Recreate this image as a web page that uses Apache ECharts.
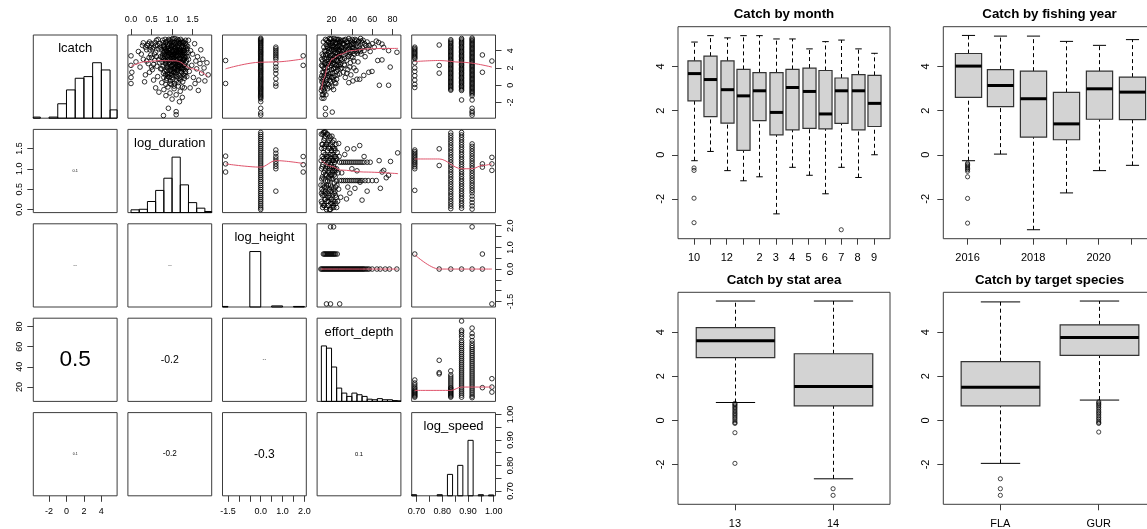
<!DOCTYPE html>
<html><head><meta charset="utf-8">
<script src="https://cdn.jsdelivr.net/npm/echarts/dist/echarts.min.js"></script>
<style>html,body{margin:0;padding:0;background:#fff}#c{width:1147px;height:529px}</style>
</head><body><div id="c"></div>
<script>
// ===================== DATA =====================
// ---- pairs plot variables ----
const pairVars = ['lcatch', 'log_duration', 'log_height', 'effort_depth', 'log_speed'];
const pairRanges = [[-3.806, 5.806], [-0.076, 1.966], [-1.751, 2.088], [5.8, 88.2], [0.681, 1.007]];
const lcatchTicks = [-2, 0, 2, 4];
const lcatchTickLabels = ['-2', '0', '2', '4'];
const durationTicks = [0, 0.5, 1, 1.5];
const durationTickLabels = ['0.0', '0.5', '1.0', '1.5'];
const heightTicks = [-1.5, -1, -0.5, 0, 0.5, 1, 1.5, 2];
const heightTickLabels = ['-1.5', '', '', '0.0', '', '1.0', '', '2.0'];
const depthTicks = [20, 40, 60, 80];
const depthTickLabels = ['20', '40', '60', '80'];
const speedTicks = [0.7, 0.75, 0.8, 0.85, 0.9, 0.95, 1.0];
const speedTickLabels = ['0.70', '', '0.80', '', '0.90', '', '1.00'];

// ---- diagonal histograms (bin breaks, bar heights relative to tallest bar) ----
const lcatchBreaks = [-4, -3, -2, -1, 0, 1, 2, 3, 4, 5, 6];
const lcatchHeights = [0.02, 0, 0.02, 0.26, 0.51, 0.72, 0.75, 1.0, 0.87, 0.15];
const durationBreaks = [0, 0.2, 0.4, 0.6, 0.8, 1.0, 1.2, 1.4, 1.6, 1.8, 2.0];
const durationHeights = [0.05, 0.06, 0.2, 0.4, 0.62, 1.0, 0.5, 0.18, 0.08, 0.02];
const heightBreaks = [-2, -1.5, -1, -0.5, 0, 0.5, 1, 1.5, 2];
const heightHeights = [0.01, 0, 0, 1.0, 0, 0.02, 0, 0.01];
const depthBreaks = [10, 15, 20, 25, 30, 35, 40, 45, 50, 55, 60, 65, 70, 75, 80, 85, 90];
const depthHeights = [1.0, 0.96, 0.62, 0.24, 0.15, 0.09, 0.15, 0.12, 0.09, 0.04, 0.03, 0.05, 0.03, 0.03, 0.015, 0.01];
const speedBreaks = [0.68, 0.70, 0.72, 0.74, 0.76, 0.78, 0.80, 0.82, 0.84, 0.86, 0.88, 0.90, 0.92, 0.94, 0.96, 0.98, 1.00];
const speedHeights = [0.02, 0, 0, 0, 0, 0.02, 0, 0.386, 0, 0.549, 0, 1.0, 0, 0.02, 0, 0.015];

// ---- lower panels: correlation text ----
const corrCells = [[1, 0], [2, 0], [2, 1], [3, 0], [3, 1], [3, 2], [4, 0], [4, 1], [4, 2], [4, 3]];
const corrLabels = ['0.1', '0.0', '0.0', '0.5', '-0.2', '0.0', '0.1', '-0.2', '-0.3', '0.1'];
const corrValues = [0.08, 0.05, 0.05, 0.47, 0.27, 0.05, 0.07, 0.21, 0.31, 0.12];

// ---- upper panels: scatter points [x, y] and smoother points ----
// lcatch (y) vs log_duration (x)
const lcatchVsDuration = [
 [0.78,4.9],[0.82,4.2],[0.85,3.6],[0.88,5.1],[0.9,2.9],[0.92,4.5],[0.95,3.8],[0.97,2.2],[1.0,5.3],[1.02,4.0],[1.04,3.1],[1.06,1.8],
 [1.08,4.7],[1.1,3.4],[1.12,2.6],[1.15,5.0],[1.18,4.3],[1.2,3.0],[1.22,1.5],[1.25,4.6],[1.28,3.7],[1.3,2.4],[1.33,5.2],[0.8,3.1],
 [0.84,2.5],[0.87,1.7],[0.91,1.2],[0.94,4.8],[0.98,4.4],[1.01,3.5],[1.03,2.8],[1.05,1.1],[1.07,5.4],[1.09,4.1],[1.11,3.9],[1.13,1.9],
 [1.16,2.1],[1.19,3.6],[1.21,4.9],[1.24,2.7],[1.27,1.3],[1.29,4.0],[1.32,3.2],[1.34,2.0],[0.76,2.7],[0.79,1.4],[0.83,5.3],[0.86,4.0],
 [0.89,3.3],[0.93,0.9],[0.96,3.0],[0.99,1.6],[1.0,2.3],[1.02,0.7],[1.04,4.5],[1.06,3.7],[1.08,2.9],[1.1,0.5],[1.12,4.9],[1.14,3.0],
 [1.17,0.8],[1.2,4.1],[1.23,3.4],[1.26,0.4],[1.28,2.9],[1.31,1.1],[0.81,3.9],[0.88,2.3],[0.95,5.2],[1.03,4.7],[1.09,1.4],[1.16,4.6],
 [1.24,5.1],[1.33,4.4],[0.92,3.7],[1.0,3.9],[1.07,2.1],[1.14,3.8],[1.19,2.6],[1.26,3.5],
 [0.77,3.5],[0.8,4.6],[0.83,2.9],[0.86,5.0],[0.89,4.4],[0.92,2.4],[0.94,1.7],[0.97,4.2],[0.99,3.3],[1.01,5.0],[1.03,1.5],[1.05,2.6],
 [1.07,3.3],[1.09,4.4],[1.11,2.3],[1.13,5.3],[1.15,1.7],[1.17,3.9],[1.19,4.8],[1.21,2.0],[1.23,4.4],[1.25,3.1],[1.27,2.3],[1.29,5.0],
 [1.31,3.8],[0.96,0.5],[1.06,0.2],[1.18,1.1],[0.87,0.8],[1.22,0.9],
 [0.74,4.1],[0.75,1.9],[0.77,5.2],[0.78,2.2],[0.79,3.8],[0.8,0.9],[0.81,4.4],[0.82,1.6],[0.83,3.3],[0.84,4.9],[0.85,2.7],[0.86,0.6],
 [0.87,3.9],[0.88,1.4],[0.89,4.7],[0.9,2.0],[0.91,3.5],[0.92,5.3],[0.93,2.6],[0.94,4.1],[0.95,1.3],[0.96,3.6],[0.97,5.0],[0.98,2.8],
 [0.99,4.6],[1.0,1.9],[1.01,3.1],[1.02,5.4],[1.03,2.4],[1.04,3.6],[1.05,4.9],[1.06,1.5],[1.07,4.0],[1.08,2.5],[1.09,3.5],[1.1,5.1],
 [1.11,1.7],[1.12,3.5],[1.13,4.4],[1.14,2.2],[1.15,3.4],[1.16,5.2],[1.17,1.9],[1.18,3.2],[1.19,4.0],[1.2,2.3],[1.21,5.3],[1.22,3.8],
 [1.23,1.6],[1.24,4.0],[1.25,2.0],[1.26,4.9],[1.27,3.0],[1.28,1.8],[1.29,4.4],[1.3,3.3],[1.31,2.1],[1.32,4.8],[1.33,1.6],[1.34,3.6],
 [1.35,2.8],[1.36,4.2],[1.37,3.3],[1.38,2.1],[1.39,3.8],[0.76,3.2],[0.79,4.5],[0.82,2.9],[0.85,4.3],[0.88,3.0],[0.91,4.2],[0.94,3.1],
 [0.97,1.8],[1.0,4.6],[1.03,3.4],[1.06,4.3],[1.09,2.0],[1.12,4.1],[1.15,2.6],[1.18,4.9],[1.21,3.1],[1.24,1.9],[1.27,5.0],[1.3,4.0],
 [1.33,2.6],[0.9,1.0],[1.0,0.9],[1.1,1.2],[1.2,0.6],[1.3,0.8],[0.95,0.2],[1.15,0.3],[1.25,-0.2],[0.85,0.1],[1.05,-0.1],
 [0.82,3.6],[0.87,2.1],[0.93,4.0],[0.98,3.5],[1.04,2.0],[1.08,3.8],[1.13,2.8],[1.18,2.4],[1.23,2.6],[1.28,4.2],[1.32,1.4],[0.9,3.8],
 [1.0,2.7],[1.1,2.8],[1.2,3.6],[1.3,3.0],[0.95,2.6],[1.05,3.5],[1.15,4.1],[1.25,3.8],[0.84,1.2],[1.35,4.6],[1.12,1.0],[0.99,1.2],
 [0.0,3.4],[0.0,2.3],[0.0,0.9],[0.0,0.2],[0.02,1.5],[0.12,2.7],[0.18,3.9],[0.22,2.1],[0.28,4.6],[0.3,3.0],[0.35,1.2],[0.38,4.1],
 [0.42,2.5],[0.45,5.0],[0.48,3.5],[0.5,4.8],[0.52,1.8],[0.55,4.4],[0.58,2.9],[0.6,3.8],[0.62,5.2],[0.65,1.0],[0.68,4.2],[0.7,2.6],
 [0.72,3.3],[0.55,0.6],[0.45,1.5],[0.33,0.4],[0.6,-0.3],[0.68,-0.8],[0.25,3.6],[0.4,4.6],[0.48,4.4],[0.52,4.2],
 [0.3,4.9],[0.35,4.4],[0.42,4.8],[0.46,4.1],[0.5,3.2],[0.55,2.4],[0.58,4.9],[0.62,3.3],[0.65,4.6],[0.68,3.0],[0.7,4.8],[0.72,1.9],
 [0.63,2.2],[0.57,3.6],[0.5,2.1],[0.44,3.2],[0.38,2.8],[0.66,5.3],[0.71,4.4],[0.6,4.6],
 [1.38,4.5],[1.4,3.0],[1.42,1.6],[1.45,4.0],[1.48,2.3],[1.5,3.6],[1.52,0.9],[1.55,4.8],[1.58,2.8],[1.6,1.9],[1.62,3.3],[1.65,0.6],
 [1.68,2.5],[1.7,4.1],[1.72,1.4],[1.75,3.0],[1.78,2.0],[1.8,0.5],[1.85,2.6],[1.88,1.2],[1.36,1.0],[1.44,-0.3],[1.56,0.2],[1.64,-0.6],[1.4,5.2],
 [0.75,0.3],[0.8,-0.5],[0.85,-1.2],[0.9,-0.2],[0.95,-0.9],[1.0,-1.6],[1.05,-0.4],[1.1,-1.1],[1.15,-0.1],[1.2,-0.7],[1.25,-1.4],[1.3,-0.3],
 [0.91,-2.66],[0.79,-3.5],[1.1,-3.05],[1.1,-3.4],[0.98,0.1],[1.18,-1.9]
];
const lcatchVsDurationSmooth = [[0,2.17],[0.37,2.74],[0.7,2.85],[1.1,2.82],[1.5,1.9],[1.87,1.03]];

// lcatch (y) by log_height level (x)
const lcatchByHeight = [
 {level: -1.609, values: [2.86, 0.2]},
 {level: 0, values: [5.42,5.3,5.18,5.05,4.93,4.8,4.66,4.55,4.41,4.3,4.17,4.04,3.9,3.79,3.65,3.52,3.4,3.27,3.13,3.01,2.88,2.75,2.61,2.5,2.36,2.22,2.1,1.97,1.84,1.7,1.58,1.45,1.31,1.19,1.05,0.93,0.8,0.66,0.53,0.41,0.28,0.15,0.02,-0.12,-0.25,-0.38,-0.5,-0.64,-0.77,-0.9,-1.03,-1.17,-1.3,-1.44,-1.58,-1.9,-2.66,-3.2,-3.45]},
 {level: 0.693, values: [4.4,4.2,4.0,3.8,3.6,3.4,3.2,3.0,2.5,2.1,1.75,1.35,0.75,0.2,-0.1]},
 {level: 1.946, values: [3.4, 2.3]}
];
const lcatchVsHeightSmooth = [[-1.609,1.9],[0,2.66],[0.693,2.7],[1.946,3.05]];

// lcatch (y) vs effort_depth (x)
const lcatchVsDepth = [
 [10,-0.6],[10.5,0.4],[11,1.5],[10.2,2.3],[11.5,-0.2],[12,0.9],[12.5,2.0],[13,3.1],[10.8,3.6],[11.8,-1.1],[12.2,-0.5],[13.5,1.2],
 [14,2.6],[13.2,4.0],[10.4,1.1],[11.2,2.8],[12.8,-0.8],[13.8,0.3],[14.2,3.5],[12.4,4.4],[11.6,0.2],[10.6,-1.5],[9.8,0.8],[13.6,1.9],
 [15,3.2],[15.5,4.5],[16,2.1],[16.5,5.0],[17,3.8],[17.5,1.3],[18,4.2],[18.5,2.7],[19,5.3],[19.5,3.5],[20,1.8],[20.5,4.8],[21,3.0],
 [21.5,0.9],[22,4.1],[22.5,5.4],[23,2.4],[23.5,3.7],[24,4.9],[24.5,1.6],[25,3.3],[25.5,4.4],[26,2.8],[26.5,5.1],[27,3.9],[27.5,2.2],
 [28,4.6],[28.5,3.1],[29,5.2],[29.5,3.6],[15.2,0.6],[16.2,-0.4],[17.2,0.1],[18.2,1.0],[19.2,0.4],[20.2,-0.2],[21.2,1.4],[22.2,0.6],
 [23.2,1.1],[24.2,0.2],[15.8,1.6],[16.8,3.0],[17.8,5.4],[18.8,3.9],[19.8,2.3],[20.8,5.0],[21.8,2.6],[22.8,3.3],[23.8,5.0],[24.8,2.9],
 [25.8,1.2],[26.8,4.1],[27.8,4.9],[28.8,1.9],[29.8,4.3],[15.6,4.0],[17.6,4.6],[19.6,4.5],[21.6,4.4],[23.6,4.2],[25.6,5.3],[27.6,3.4],
 [16.4,2.5],[18.4,3.4],[20.4,2.9],[22.4,1.9],[24.4,3.8],[26.4,2.4],[14.5,-1.1],[14,-2.66],[14,-3.4],[20.7,-3.1],[12.5,-1.5],[10.9,-1.1],
 [10.3,3.0],[10.7,-0.3],[11.1,2.2],[11.4,0.6],[11.9,3.4],[12.3,1.5],[12.7,0.1],[13.1,2.5],[13.4,-0.3],[13.9,3.9],[14.3,1.6],[14.7,4.7],
 [15.1,2.4],[15.4,5.2],[15.7,0.2],[16.1,3.5],[16.3,4.3],[16.7,1.1],[17.1,2.5],[17.3,5.0],[17.7,3.2],[18.1,0.6],[18.3,2.1],[18.7,4.8],
 [19.1,1.4],[19.3,3.0],[19.7,5.4],[20.1,4.1],[20.3,0.9],[20.7,2.5],[21.1,4.6],[21.3,3.5],[21.7,1.9],[22.1,5.1],[22.3,3.9],[22.7,2.9],
 [23.1,4.5],[23.3,0.3],[23.7,2.0],[24.1,3.3],[24.3,5.3],[24.7,4.3],[25.1,2.3],[25.3,4.8],[25.7,3.7],[26.1,1.8],[26.3,4.5],[26.7,3.3],
 [27.1,5.3],[27.3,2.6],[27.7,4.2],[28.1,3.7],[28.3,5.0],[28.7,2.4],[29.1,4.0],[29.3,2.9],[29.7,5.0],[30.2,4.4],[30.8,3.9],[31.3,5.2],
 [31.8,4.1],[32.3,4.7],[32.8,3.1],[33.3,4.4],[33.8,5.3],[34.3,3.7],[34.8,4.5],[35.3,5.0],[35.8,3.9],[36.3,4.9],[36.8,4.2],[37.3,3.5],
 [37.8,4.6],[38.3,5.2],[38.8,4.0],[39.3,3.3],[39.8,4.7],[40.3,5.3],[40.8,3.9],[41.3,4.9],[41.8,4.3],[42.3,5.1],[43.3,4.1],[44.3,4.8],
 [45.3,3.7],[46.3,5.0],[47.3,4.4],[48.3,3.9],[49.3,5.1],[50.3,4.3],[12,5.0],[14,5.3],[16,0.9],[18,-0.2],[22,-0.5],[25,0.7],[28,1.3],
 [30,2.0],[33,2.3],[35,1.4],[38,2.1],[42,2.8],[44,1.7],
 [31,4.8],[32,3.5],[33,5.2],[34,4.1],[35,2.9],[36,4.6],[37,5.4],[38,3.8],[39,4.4],[40,5.0],[41,3.2],[42,4.7],[43,5.3],[44,3.9],
 [45,4.5],[46,2.7],[47,5.1],[48,4.2],[49,3.6],[50,4.9],[51,5.2],[52,4.0],[53,3.3],[54,4.6],[55,5.0],[56,4.3],[58,3.9],[60,4.8],
 [62,4.4],[64,5.1],[30.5,3.0],[32.5,2.4],[34.5,5.0],[36.5,3.3],[38.5,2.6],[40.5,4.3],[42.5,3.6],[44.5,5.2],[46.5,4.0],[48.5,5.4],
 [52.5,4.8],[57,4.6],[31.5,1.5],[33.5,0.9],[36,1.8],[39,1.2],[42,2.0],[45,0.7],[37,0.3],[41,0.5],
 [66.3,4.95],[69.6,4.76],[71.2,4.38],[76.1,4.0],[84.3,3.81],[77.7,2.1],[67,0],[76.1,0],[59.8,1.6],[56.6,1.5],[51.7,1.14],[47.7,0.69],
 [65.4,2.86],[69.6,2.93]
];
const lcatchVsDepthSmooth = [[10,-0.57],[13,0.9],[16,2.2],[20.7,3.05],[28,3.55],[38.6,4.0],[55,4.2],[70,4.25],[85.4,4.26]];

// lcatch (y) by log_speed level (x)
const lcatchBySpeed = [
 {level: 0.693, values: [4.4,4.25,4.1,3.95,3.8,3.65,3.5,3.35,3.2,3.05,2.6,2.0,1.6,1.1,0.6,0.1,-0.26]},
 {level: 0.788, values: [4.65, 2.29, 1.4]},
 {level: 0.833, values: [5.26,5.1,4.95,4.8,4.63,4.5,4.34,4.2,4.05,3.9,3.74,3.6,3.45,3.3,3.14,3.0,2.85,2.7,2.55,2.4,2.24,2.1,1.95,1.8,1.64,1.5,1.35,1.2,1.05,0.9,0.74,0.6,0.45,0.3,0.15,0.0,-0.15,-0.3,-0.45,-0.57]},
 {level: 0.875, values: [5.4,5.25,5.1,4.96,4.8,4.66,4.5,4.36,4.2,4.06,3.9,3.76,3.6,3.46,3.3,3.16,3.0,2.86,2.7,2.56,2.4,2.26,2.1,1.96,1.8,1.66,1.5,1.36,1.2,1.06,0.9,0.76,0.6,0.46,0.3,0.16,0.0,-0.14,-0.3,-0.45,-0.6,-1.7]},
 {level: 0.916, values: [5.45,5.3,5.15,5.0,4.85,4.7,4.55,4.4,4.25,4.1,3.95,3.8,3.65,3.5,3.35,3.2,3.05,2.9,2.75,2.6,2.45,2.3,2.15,2.0,1.85,1.7,1.55,1.4,1.25,1.1,0.95,0.8,0.65,0.5,0.35,0.2,0.05,-0.1,-0.25,-0.4,-0.55,-0.7,-0.85,-1.0,-1.2,-1.7,-2.66,-3.0,-3.2,-3.45]},
 {level: 0.956, values: [3.5, 1.5]},
 {level: 0.993, values: [2.8]}
];
const lcatchVsSpeedSmooth = [[0.693,2.74],[0.788,2.86],[0.875,2.66],[0.993,2.1]];

// log_duration (y) by log_height level (x)
const durationByHeight = [
 {level: -1.609, values: [1.31, 1.12, 0.92]},
 {level: 0, values: [1.89,1.84,1.79,1.74,1.69,1.64,1.59,1.54,1.49,1.44,1.39,1.34,1.29,1.24,1.19,1.14,1.09,1.04,0.99,0.94,0.89,0.84,0.79,0.74,0.69,0.64,0.59,0.54,0.49,0.44,0.39,0.34,0.29,0.24,0.19,0.14,0.09,0.04,0.0]},
 {level: 0.693, values: [1.46,1.38,1.3,1.24,1.18,1.12,1.06,1.0,0.45]},
 {level: 1.946, values: [1.3, 1.1, 0.92]}
];
const durationVsHeightSmooth = [[-1.609,1.12],[0,1.04],[0.693,1.2],[1.946,1.13]];

// log_duration (y) vs effort_depth (x)
const durationVsDepth = [
 [10,0.2],[10.5,0.5],[11,0.8],[11.5,1.1],[12,1.4],[12.5,1.7],[13,0.1],[13.5,0.4],[14,0.7],[14.5,1.0],[15,1.3],[15.5,1.6],[16,1.85],
 [16.5,0.3],[17,0.6],[17.5,0.9],[18,1.2],[18.5,1.5],[19,0.0],[19.5,0.75],[20,1.05],[20.5,1.35],[21,1.65],[21.5,0.2],[22,0.5],
 [22.5,0.85],[23,1.15],[23.5,1.45],[24,0.35],[24.5,0.95],[25,1.25],[10.2,1.0],[10.8,1.3],[11.2,0.05],[11.8,0.6],[12.2,0.9],[12.8,1.2],
 [13.2,1.55],[13.8,1.8],[14.2,0.25],[14.8,0.55],[15.2,0.85],[15.8,1.15],[16.2,1.45],[16.8,0.1],[17.2,0.45],[17.8,0.75],[18.2,1.05],
 [18.8,1.35],[19.2,1.75],[19.8,0.25],[20.2,0.55],[20.8,0.9],[21.2,1.2],[21.8,1.5],[22.2,0.05],[22.8,0.65],[23.2,1.0],[23.8,1.3],
 [24.2,0.15],[24.8,0.7],[10.6,1.6],[11.4,1.85],[12.6,0.35],[13.4,0.95],[14.6,1.25],[15.4,0.2],[16.6,0.95],[17.4,1.3],[18.6,0.3],
 [19.4,1.1],[20.6,0.15],[21.4,0.95],[22.6,1.3],[23.4,0.45],[12,1.89],[14,1.9],[15,0.0],[18,0.0],[11,0.35],[10.4,0.75],[17.6,1.7],[20.4,1.8],
 [9.6,0.6],[9.8,1.2],[10.1,0.4],[10.3,1.5],[10.7,0.15],[10.9,1.05],[11.3,1.6],[11.6,0.45],[11.9,1.25],[12.1,0.1],[12.4,0.75],[12.7,1.5],
 [12.9,0.55],[13.1,1.75],[13.3,0.25],[13.6,1.35],[13.9,0.85],[14.1,0.45],[14.4,1.6],[14.7,0.05],[14.9,1.1],[15.1,0.6],[15.3,1.85],
 [15.6,0.4],[15.9,1.3],[16.1,0.7],[16.4,1.65],[16.7,0.2],[16.9,1.15],[17.1,0.8],[17.3,1.5],[17.7,0.35],[17.9,1.0],[18.1,1.8],[18.3,0.5],
 [18.7,0.85],[18.9,1.6],[19.1,0.15],[19.3,1.25],[19.6,0.45],[19.9,1.45],[20.1,0.85],[20.3,0.05],[20.7,1.2],[20.9,1.55],[21.1,0.35],
 [21.3,0.75],[21.6,1.35],[21.9,0.1],[22.1,1.05],[22.3,1.7],[22.7,0.4],[22.9,0.95],[23.1,1.5],[23.3,0.2],[23.6,0.8],[23.9,1.2],[24.1,0.55],
 [24.3,1.6],[24.6,0.3],[24.9,1.0],[25.3,0.6],[25.6,1.4],[26,0.2],[26.5,0.9],[27,0.5],[27.5,1.3],[10,1.85],[13,1.9],[16,1.05],[19,0.6],
 [22,1.2],[25,0.05],
 [28,1.16],[30,1.16],[32,1.16],[34,1.16],[36,1.16],[38,1.16],[40,1.16],[42,1.16],[44,1.16],[46,1.16],[48,1.16],[50,1.16],[52,1.16],[55,1.16],[58,1.16],
 [28,0.71],[30,0.71],[32,0.71],[34,0.71],[36,0.71],[38,0.71],[40,0.71],[42,0.71],[44,0.71],[46,0.71],[48,0.71],[50,0.71],[53,0.71],[56,0.71],[60,0.71],[64,0.71],
 [27,1.62],[35.5,1.49],[42,1.49],[47.7,1.57],[66.8,1.2],[78,1.18],[85,1.39],[71.3,0.96],[76,0.84],[68,0.52],[48,0.67],[50,0.23],
 [43,0.52],[34.7,0.26],[69.7,0.92],[73.8,0.78],[30,0.9],[33,1.35],[38,0.4],[45,0.95],[52,1.3],[40,1.0],[29,0.3],[36,0.55],[55,0.45]
];
const durationVsDepthSmooth = [[10,1.2],[20,1.06],[28.8,0.97],[51.7,0.92],[85.4,0.88]];

// log_duration (y) by log_speed level (x)
const durationBySpeed = [
 {level: 0.693, values: [1.46,1.42,1.38,1.34,1.3,1.26,1.22,1.18,1.14,1.1,1.05,1.0,0.47]},
 {level: 0.788, values: [1.49, 1.08]},
 {level: 0.833, values: [1.88,1.82,1.76,1.7,1.64,1.58,1.52,1.46,1.4,1.34,1.28,1.22,1.16,1.1,1.04,0.98,0.92,0.86,0.8,0.74,0.68,0.62,0.56,0.5,0.44,0.38,0.32,0.26,0.2,0.14,0.08,0.02]},
 {level: 0.875, values: [1.89,1.83,1.77,1.71,1.65,1.59,1.53,1.47,1.41,1.35,1.29,1.23,1.17,1.11,1.05,0.99,0.93,0.87,0.81,0.75,0.69,0.63,0.57,0.51,0.45,0.39,0.33,0.27,0.21,0.15,0.09,0.03]},
 {level: 0.916, values: [1.61,1.55,1.49,1.43,1.37,1.31,1.25,1.19,1.13,1.07,1.01,0.95,0.89,0.83,0.77,0.71,0.65,0.59,0.53,0.47,0.41,0.33,0.25,0.17,0.09,0.01]},
 {level: 0.956, values: [1.12, 1.04]},
 {level: 0.993, values: [1.28, 1.12, 0.96]}
];
const durationVsSpeedSmooth = [[0.693,1.24],[0.788,1.24],[0.875,1.0],[0.916,1.0],[0.956,1.08],[0.993,1.12]];

// log_height level (y) with effort_depth values (x)
const heightRowsDepth = [
 {level: 0, values: [9.5,10.5,11.5,12.5,13.5,14.5,15.5,16.5,17.5,18.5,19.5,20.5,21.5,22.5,23.5,24.5,25.5,26.5,27.5,28.5,29.5,30.5,31.5,32.5,33.5,34.5,35.5,36.5,37.5,38.5,39.5,40.5,41.5,42.5,43.5,44.5,45.5,46.5,47.5,48.5,49.5,50.5,51.5,52.5,54,55.5,57,60,64.6,67.9,72.8,77,84.2]},
 {level: 0.693, values: [12,13,14,15,16,17,18,19,20,21,22,23,24,25.6]},
 {level: 1.946, values: [19, 22]},
 {level: -1.609, values: [15, 19, 28]}
];
const heightVsDepthSmooth = [[9.5,0],[85,0]];

// log_height (y) vs log_speed (x)
const heightVsSpeed = [[0.693,0.693],[0.788,0],[0.833,0],[0.875,0],[0.916,0],[0.916,1.946],[0.956,0],[0.956,0.693],[0.993,-1.609]];
const heightVsSpeedSmooth = [[0.693,0.66],[0.788,0],[0.993,0]];

// effort_depth (y) by log_speed level (x)
const depthBySpeed = [
 {level: 0.693, values: [27,24,22,20,18.5,17,16,15,14,13,12,11,10]},
 {level: 0.788, values: [46.5, 34.3, 33]},
 {level: 0.833, values: [36,32,30,28,26,24,22,20,19,18,17,16,15,14,13,12,11,10]},
 {level: 0.875, values: [85.4,76.2,74.5,72,69.6,66,64,62,60,58,56,54,52,50,48,46,44,42,40,38,36,34,32,30,28,26,24,22,20,18,16,14,12,10]},
 {level: 0.916, values: [78.4,73,70,66,63.4,61,59,57,55,53,51,49,47,45,43,41,39,37,35,33,31,29,27,25,23,21,19,17,15,13,11,9.5]},
 {level: 0.956, values: [19.4]},
 {level: 0.993, values: [28.3, 20, 15]}
];
const depthVsSpeedSmooth = [[0.693,16.7],[0.833,16.7],[0.875,20],[0.993,20]];

// ---- boxplots of lcatch ----
const catchRange = [-3.806, 5.806];
const catchTicks = [-2, 0, 2, 4];
const catchTickLabels = ['-2', '0', '2', '4'];

const monthCats = ['10', '11', '12', '1', '2', '3', '4', '5', '6', '7', '8', '9'];
const monthTickLabels = ['10', '', '12', '', '2', '3', '4', '5', '6', '7', '8', '9'];
// [min, Q1, median, Q3, max]
const monthStats = [
 [-0.27, 2.44, 3.68, 4.26, 5.11], [0.15, 1.73, 3.41, 4.47, 5.4], [-0.72, 1.43, 2.95, 4.26, 5.3],
 [-1.18, 0.2, 2.67, 3.87, 5.4], [-1.0, 1.55, 2.9, 3.72, 5.4], [-2.68, 0.9, 1.92, 3.72, 5.25],
 [-0.57, 1.13, 3.05, 3.87, 5.25], [-0.93, 1.2, 2.87, 3.93, 4.8], [-1.77, 1.17, 1.85, 3.82, 5.13],
 [-0.57, 1.42, 2.9, 3.48, 5.2], [-1.03, 1.13, 2.9, 3.63, 4.8], [0.0, 1.28, 2.33, 3.6, 4.6]
];
const monthOutliers = [[1, -0.6], [1, -0.71], [1, -1.97], [1, -3.08], [10, -3.4]];

const yearCats = ['2016', '2017', '2018', '2019', '2020', '2021'];
const yearTickLabels = ['2016', '', '2018', '', '2020', ''];
const yearStats = [
 [-0.27, 2.6, 4.02, 4.59, 5.41], [0.03, 2.18, 3.14, 3.86, 5.38], [-3.4, 0.8, 2.54, 3.79, 5.38],
 [-1.73, 0.68, 1.4, 2.83, 5.14], [-0.72, 1.61, 2.99, 3.79, 4.96], [-0.48, 1.59, 2.84, 3.52, 5.22]
];
const yearOutliers = [[1, -0.38], [1, -0.44], [1, -0.5], [1, -0.56], [1, -0.62], [1, -0.68], [1, -0.75], [1, -1.0], [1, -1.98], [1, -3.1]];

const areaCats = ['13', '14'];
const areaTickLabels = ['13', '14'];
const areaStats = [[0.81, 2.84, 3.61, 4.2, 5.41], [-2.65, 0.66, 1.53, 3.02, 5.41]];
const areaOutliers = [[1, 0.77], [1, 0.72], [1, 0.66], [1, 0.6], [1, 0.54], [1, 0.47], [1, 0.4], [1, 0.33], [1, 0.27], [1, 0.2],
 [1, 0.13], [1, 0.06], [1, -0.02], [1, -0.1], [1, -0.14], [1, -0.56], [1, -1.95], [2, -3.1], [2, -3.4]];

const speciesCats = ['FLA', 'GUR'];
const speciesTickLabels = ['FLA', 'GUR'];
const speciesStats = [[-1.95, 0.66, 1.5, 2.66, 5.37], [0.92, 2.95, 3.76, 4.33, 5.41]];
const speciesOutliers = [[1, -2.65], [1, -3.1], [1, -3.4], [2, 0.84], [2, 0.78], [2, 0.72], [2, 0.65], [2, 0.58], [2, 0.5], [2, 0.42],
 [2, 0.35], [2, 0.28], [2, 0.2], [2, 0.12], [2, 0.05], [2, -0.03], [2, -0.1], [2, -0.14], [2, -0.53]];

// ===================== CHART =====================
const FONT = '"Liberation Sans", Arial, Helvetica, sans-serif';
const FRAME = '#3c3c3c';
const option = {animation: false, backgroundColor: '#fff', grid: [], xAxis: [], yAxis: [], series: [], graphic: []};

const pairTicks = [lcatchTicks, durationTicks, heightTicks, depthTicks, speedTicks];
const pairTickLabels = [lcatchTickLabels, durationTickLabels, heightTickLabels, depthTickLabels, speedTickLabels];
const pairHist = [[lcatchBreaks, lcatchHeights], [durationBreaks, durationHeights], [heightBreaks, heightHeights], [depthBreaks, depthHeights], [speedBreaks, speedHeights]];

const fromColumns = cols => cols.flatMap(c => c.values.map(v => [c.level, v]));
const fromRows = rows => rows.flatMap(r => r.values.map(v => [v, r.level]));
const upper = {
 '0,1': [lcatchVsDuration, lcatchVsDurationSmooth],
 '0,2': [fromColumns(lcatchByHeight), lcatchVsHeightSmooth],
 '0,3': [lcatchVsDepth, lcatchVsDepthSmooth],
 '0,4': [fromColumns(lcatchBySpeed), lcatchVsSpeedSmooth],
 '1,2': [fromColumns(durationByHeight), durationVsHeightSmooth],
 '1,3': [durationVsDepth, durationVsDepthSmooth],
 '1,4': [fromColumns(durationBySpeed), durationVsSpeedSmooth],
 '2,3': [fromRows(heightRowsDepth), heightVsDepthSmooth],
 '2,4': [heightVsSpeed, heightVsSpeedSmooth],
 '3,4': [fromColumns(depthBySpeed), depthVsSpeedSmooth]
};

function labelFmt(ticks, labels) {
  return v => { const n = ticks.findIndex(t => Math.abs(t - v) < 1e-9); return n >= 0 ? labels[n] : ''; };
}
function labelVals(ticks, labels) { return ticks.filter((t, n) => labels[n] !== ''); }

function addGrid(left, top, width, height) {
  option.grid.push({left, top, width, height, show: true, borderColor: FRAME, borderWidth: 1,
    backgroundColor: 'transparent', containLabel: false, outerBoundsMode: 'none'});
  return option.grid.length - 1;
}
function axisCfg(gridIndex, range, ticks, labels, position, show, fontSize, margin, rotate) {
  return {
    type: 'value', gridIndex, min: range[0], max: range[1], position, scale: true,
    axisLine: {show: false, onZero: false}, splitLine: {show: false},
    axisTick: {show: show, inside: false, length: 6, customValues: ticks, lineStyle: {color: FRAME, width: 1}},
    axisLabel: {show: show, customValues: labelVals(ticks, labels), formatter: labelFmt(ticks, labels),
      fontSize, fontFamily: FONT, color: '#000', margin, rotate: rotate || 0, hideOverlap: false}
  };
}

const mctx = document.createElement('canvas').getContext('2d');
function emWidth(txt) { mctx.font = '100px ' + FONT; return mctx.measureText(txt).width / 100; }

const PW = 83.8, PH = 83.2;
for (let i = 0; i < 5; i++) {
  for (let j = 0; j < 5; j++) {
    const gi = addGrid(33.3 + j * 94.6, 35 + i * 94.4, PW, PH);
    const showTop = i === 0 && j % 2 === 1, showBottom = i === 4 && j % 2 === 0;
    const showLeft = j === 0 && i % 2 === 1, showRight = j === 4 && i % 2 === 0;
    const xi = option.xAxis.length;
    option.xAxis.push(axisCfg(gi, pairRanges[j], pairTicks[j], pairTickLabels[j], showTop ? 'top' : 'bottom', showTop || showBottom, 9, 11));
    const yi = option.yAxis.length;
    option.yAxis.push(axisCfg(gi, pairRanges[i], pairTicks[i], pairTickLabels[i], showRight ? 'right' : 'left', showLeft || showRight, 9, showLeft ? 9 : 11, 90));
    if (i === j) {
      const yh = option.yAxis.length;
      option.yAxis.push({type: 'value', gridIndex: gi, min: 0, max: 1.5, show: false, position: 'left', axisLine: {onZero: false}});
      const [br, hs] = pairHist[i];
      option.series.push({
        type: 'custom', xAxisIndex: xi, yAxisIndex: yh, silent: true,
        data: hs.map((h, n) => [br[n], br[n + 1], h]), encode: {x: [0, 1], y: 2},
        renderItem: (params, api) => {
          const p0 = api.coord([api.value(0), api.value(2)]);
          const p1 = api.coord([api.value(1), 0]);
          const cs = params.coordSys;
          const r = echarts.graphic.clipRectByRect(
            {x: p0[0], y: p0[1], width: p1[0] - p0[0], height: p1[1] - p0[1]},
            {x: cs.x, y: cs.y, width: cs.width, height: cs.height});
          if (!r || r.height <= 0.05) return null;
          return {type: 'rect', shape: r, style: {fill: 'none', stroke: '#000', lineWidth: 1}};
        }
      });
      const name = pairVars[i];
      option.series.push({
        type: 'custom', xAxisIndex: xi, yAxisIndex: yh, silent: true, data: [[0, 0]], z: 5,
        renderItem: (params) => {
          const cs = params.coordSys;
          return {type: 'text', x: cs.x + cs.width / 2, y: cs.y + cs.height * (1 - 0.8333),
            style: {text: name, fill: '#000', font: '13px ' + FONT, align: 'center', verticalAlign: 'middle'}};
        }
      });
    } else if (i > j) {
      const k = corrCells.findIndex(c => c[0] === i && c[1] === j);
      const txt = corrLabels[k], r = Math.abs(corrValues[k]);
      option.series.push({
        type: 'custom', xAxisIndex: xi, yAxisIndex: yi, silent: true, data: [[0, 0]],
        renderItem: (params) => {
          const cs = params.coordSys;
          const fs = 0.8 * r * cs.width / emWidth(txt);
          return {type: 'text', x: cs.x + cs.width / 2, y: cs.y + cs.height / 2,
            style: {text: txt, fill: '#000', font: fs.toFixed(2) + 'px ' + FONT, align: 'center', verticalAlign: 'middle'}};
        }
      });
    } else {
      const [pts, sm] = upper[i + ',' + j];
      option.series.push({
        type: 'scatter', xAxisIndex: xi, yAxisIndex: yi, data: pts, symbol: 'circle', symbolSize: 4.6, silent: true,
        itemStyle: {color: 'rgba(0,0,0,0)', borderColor: '#000', borderWidth: 1}, z: 2
      });
      option.series.push({
        type: 'line', xAxisIndex: xi, yAxisIndex: yi, data: sm, smooth: 0.35, smoothMonotone: 'x', showSymbol: false, symbol: 'none',
        silent: true, lineStyle: {color: '#DF536B', width: 1}, z: 3
      });
    }
  }
}

// ---------- boxplot panels ----------
function boxRender(params, api) {
  const x = api.value(0);
  const lo = api.coord([x, api.value(1)]), q1 = api.coord([x, api.value(2)]), med = api.coord([x, api.value(3)]);
  const q3 = api.coord([x, api.value(4)]), hi = api.coord([x, api.value(5)]);
  const w = api.size([0.8, 0])[0], sw = w / 2;
  const cx = Math.round(lo[0]) + 0.5;
  return {type: 'group', children: [
    {type: 'line', shape: {x1: cx, y1: q3[1], x2: cx, y2: hi[1]}, style: {stroke: '#000', lineWidth: 1, lineDash: [4, 3]}},
    {type: 'line', shape: {x1: cx, y1: lo[1], x2: cx, y2: q1[1]}, style: {stroke: '#000', lineWidth: 1, lineDash: [4, 3]}},
    {type: 'line', shape: {x1: cx - sw / 2, y1: hi[1], x2: cx + sw / 2, y2: hi[1]}, style: {stroke: '#000', lineWidth: 1}},
    {type: 'line', shape: {x1: cx - sw / 2, y1: lo[1], x2: cx + sw / 2, y2: lo[1]}, style: {stroke: '#000', lineWidth: 1}},
    {type: 'rect', shape: {x: cx - w / 2, y: q3[1], width: w, height: q1[1] - q3[1]}, style: {fill: '#D3D3D3', stroke: '#333', lineWidth: 1.2}},
    {type: 'line', shape: {x1: cx - w / 2, y1: med[1], x2: cx + w / 2, y2: med[1]}, style: {stroke: '#000', lineWidth: 3}}
  ]};
}
const boxPanels = [
  {title: 'Catch by month', cats: monthCats, labels: monthTickLabels, stats: monthStats, out: monthOutliers, left: 678, top: 26.7, width: 212},
  {title: 'Catch by fishing year', cats: yearCats, labels: yearTickLabels, stats: yearStats, out: yearOutliers, left: 943.3, top: 26.7, width: 212.5},
  {title: 'Catch by stat area', cats: areaCats, labels: areaTickLabels, stats: areaStats, out: areaOutliers, left: 678, top: 292.3, width: 212},
  {title: 'Catch by target species', cats: speciesCats, labels: speciesTickLabels, stats: speciesStats, out: speciesOutliers, left: 943.3, top: 292.3, width: 212.5}
];
boxPanels.forEach(p => {
  const n = p.cats.length;
  const gi = addGrid(p.left, p.top, p.width, 212);
  const pos = p.cats.map((c, k) => k + 1);
  const pad = 0.04 * n;
  const xi = option.xAxis.length;
  option.xAxis.push(axisCfg(gi, [0.5 - pad, n + 0.5 + pad], pos, p.labels, 'bottom', true, 11, 14));
  const yi = option.yAxis.length;
  option.yAxis.push(axisCfg(gi, catchRange, catchTicks, catchTickLabels, 'left', true, 11, 12, 90));
  option.series.push({
    type: 'custom', xAxisIndex: xi, yAxisIndex: yi, silent: true, renderItem: boxRender,
    data: p.stats.map((s, k) => [k + 1].concat(s)), encode: {x: 0, y: [1, 2, 3, 4, 5]}, z: 2
  });
  option.series.push({
    type: 'scatter', xAxisIndex: xi, yAxisIndex: yi, data: p.out, symbol: 'circle', symbolSize: 4.2, silent: true,
    itemStyle: {color: 'rgba(0,0,0,0)', borderColor: '#000', borderWidth: 0.9}, z: 3
  });
  option.graphic.push({
    type: 'text', x: p.left + p.width / 2, y: p.top - 12, silent: true,
    style: {text: p.title, fill: '#000', font: 'bold 13.3px ' + FONT, align: 'center', verticalAlign: 'middle'}
  });
});

const chart = echarts.init(document.getElementById('c'), null, {renderer: 'canvas'});
chart.setOption(option);
</script></body></html>
